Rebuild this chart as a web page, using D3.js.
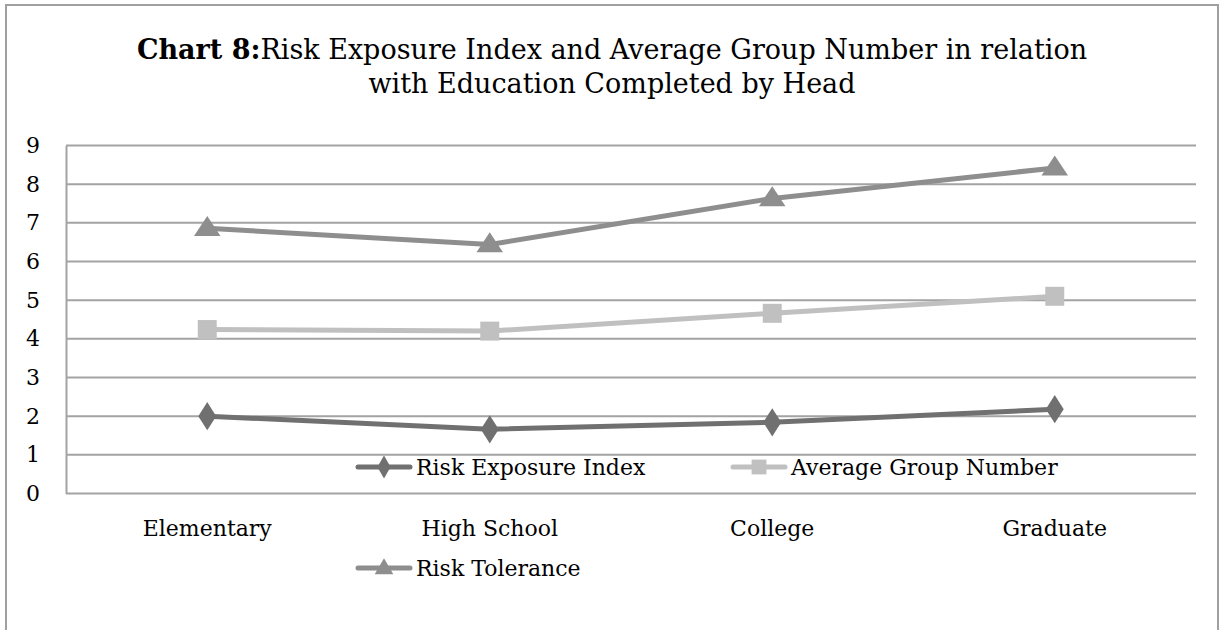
<!DOCTYPE html>
<html><head><meta charset="utf-8">
<script src="https://cdn.jsdelivr.net/npm/d3@7"></script>
<style>
html,body{margin:0;padding:0;background:#fff;}
svg{display:block;}
text{font-family:"DejaVu Serif","Liberation Serif",serif;fill:#000;}
</style></head>
<body>
<svg id="chart" width="1223" height="630"></svg>
<script>
const categories = ["Elementary", "High School", "College", "Graduate"];
const riskExposure = [2.0, 1.66, 1.84, 2.18];
const avgGroup = [4.24, 4.2, 4.66, 5.1];
const riskTolerance = [6.86, 6.44, 7.63, 8.42];
const yTicks = [0,1,2,3,4,5,6,7,8,9];
const seriesNames = ["Risk Exposure Index", "Average Group Number", "Risk Tolerance"];

const series = [
  {name: seriesNames[0], values: riskExposure, color: "#707070", symbol: d3.symbolDiamond},
  {name: seriesNames[1], values: avgGroup, color: "#c0c0c0", symbol: d3.symbolSquare},
  {name: seriesNames[2], values: riskTolerance, color: "#8e8e8e", symbol: d3.symbolTriangle}
];

const svg = d3.select("#chart");
const gridColor = "#a3a3a3";

// outer border
svg.append("rect").attr("x",6).attr("y",5).attr("width",1212).attr("height",640)
  .attr("fill","none").attr("stroke","#a0a0a0").attr("stroke-width",2);

// title
const title = svg.append("text").attr("text-anchor","middle").style("font-size","27px");
const l1 = title.append("tspan").attr("x",612).attr("y",59);
l1.append("tspan").attr("font-weight","bold").text("Chart 8:");
l1.append("tspan").text("Risk Exposure Index and Average Group Number in relation");
title.append("tspan").attr("x",612).attr("y",93).text("with Education Completed by Head");

const x = d3.scaleBand().domain(categories).range([66,1196]);
const y = d3.scaleLinear().domain([0,9]).range([493.5,145.5]);

// gridlines
svg.append("g").selectAll("line").data(yTicks.filter(d=>d>0)).join("line")
  .attr("x1",66).attr("x2",1196).attr("y1",d=>y(d)).attr("y2",d=>y(d))
  .attr("stroke",gridColor).attr("stroke-width",2);

// axes
const yAxis = svg.append("g").attr("transform","translate(66,0)")
  .call(d3.axisLeft(y).tickValues(yTicks).tickSize(0).tickPadding(26).tickFormat(d3.format("d")));
yAxis.select(".domain").attr("stroke",gridColor).attr("stroke-width",2);
yAxis.selectAll("text").style("font-size","22px").attr("font-family",null);

const xAxis = svg.append("g").attr("transform","translate(0,493.5)")
  .call(d3.axisBottom(x).tickSize(0).tickPadding(27));
xAxis.select(".domain").attr("stroke",gridColor).attr("stroke-width",2).attr("d","M66,0H1196");
xAxis.selectAll("text").style("font-size","22px").attr("font-family",null);

// lines & markers
const line = d3.line().x((d,i)=>x(categories[i])+x.bandwidth()/2).y(d=>y(d));
series.forEach(s=>{
  svg.append("path").datum(s.values).attr("d",line).attr("fill","none")
    .attr("stroke",s.color).attr("stroke-width",5).attr("stroke-linejoin","round");
  svg.append("g").selectAll("path").data(s.values).join("path")
    .attr("d",d3.symbol().type(s.symbol).size(s.symbol===d3.symbolTriangle?230:(s.symbol===d3.symbolSquare?360:230)))
    .attr("transform",(d,i)=>{
      const cx = x(categories[i])+x.bandwidth()/2, cy=y(d);
      if (s.symbol===d3.symbolDiamond) return `translate(${cx},${cy}) scale(1.1,1)`;
      if (s.symbol===d3.symbolTriangle) return `translate(${cx},${cy+1}) scale(1.15,1)`;
      return `translate(${cx},${cy})`;
    })
    .attr("fill",s.color);
});

// legend
const legendPos = [{x:358,y:467},{x:733,y:467},{x:358,y:568}];
series.forEach((s,i)=>{
  const p = legendPos[i];
  const g = svg.append("g").attr("transform",`translate(${p.x},${p.y})`);
  g.append("line").attr("x1",0).attr("x2",52).attr("y1",0).attr("y2",0)
    .attr("stroke",s.color).attr("stroke-width",5).attr("stroke-linecap","round");
  g.append("path").attr("d",d3.symbol().type(s.symbol).size(s.symbol===d3.symbolSquare?220:150)())
    .attr("transform",`translate(26,${s.symbol===d3.symbolTriangle?1:0})`).attr("fill",s.color);
  g.append("text").attr("x",58).attr("y",0).attr("dy","0.35em").style("font-size","22px").text(s.name);
});
</script>
</body></html>
